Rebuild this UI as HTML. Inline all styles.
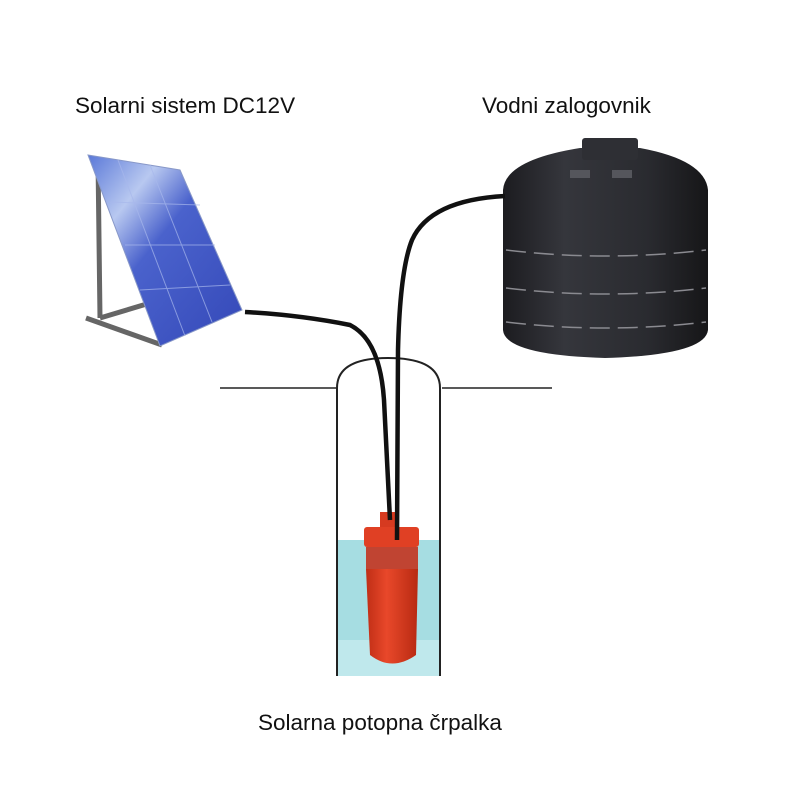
<!DOCTYPE html>
<html><head><meta charset="utf-8"><style>
body{margin:0;background:#fff}
svg{display:block}
text{font-family:"Liberation Sans",sans-serif;font-size:22.5px;fill:#111}
</style></head><body>
<svg width="800" height="800" viewBox="0 0 800 800">
<defs>
<linearGradient id="sky" x1="0" y1="0" x2="1" y2="1">
<stop offset="0" stop-color="#5a78d8"/><stop offset="0.25" stop-color="#b8c8f0"/><stop offset="0.45" stop-color="#4a62cc"/><stop offset="1" stop-color="#3448b8"/></linearGradient>
<linearGradient id="tank" x1="0" x2="1">
<stop offset="0" stop-color="#1c1c20"/><stop offset="0.3" stop-color="#35363c"/><stop offset="0.7" stop-color="#2a2b30"/><stop offset="1" stop-color="#161618"/></linearGradient>
<linearGradient id="pump" x1="0" x2="1">
<stop offset="0" stop-color="#c02e16"/><stop offset="0.4" stop-color="#e8482a"/><stop offset="1" stop-color="#b82a12"/></linearGradient>
</defs>
<text x="75" y="113">Solarni sistem DC12V</text>
<text x="482" y="113">Vodni zalogovnik</text>
<text x="258" y="730">Solarna potopna črpalka</text>
<!-- stand -->
<path d="M98 160 L100 318 M86 318 L162 345 M100 318 L160 300" stroke="#666" stroke-width="5" fill="none"/>
<!-- panel -->
<polygon points="88,155 180,170 242,310 160,346" fill="url(#sky)" stroke="#8898c8" stroke-width="1"/>
<g stroke="#a8b8ec" stroke-width="1" opacity="0.7">
<line x1="110" y1="202" x2="200" y2="205"/><line x1="125" y1="245" x2="215" y2="245"/><line x1="140" y1="290" x2="230" y2="285"/>
<line x1="118" y1="160" x2="185" y2="336"/><line x1="150" y1="165" x2="212" y2="322"/>
</g>
<!-- tank -->
<path d="M503 190 Q505 160 580 148 L640 148 Q705 160 708 190 L708 330 Q705 355 605 358 Q505 355 503 330 Z" fill="url(#tank)"/>
<rect x="582" y="138" width="56" height="22" rx="3" fill="#2e2f34"/>
<rect x="570" y="170" width="20" height="8" fill="#55565c"/><rect x="612" y="170" width="20" height="8" fill="#55565c"/>
<g stroke="#8a8a90" stroke-width="1.5" stroke-dasharray="20 8" fill="none">
<path d="M506 250 Q605 262 706 250"/><path d="M506 288 Q605 300 706 288"/><path d="M506 322 Q605 334 706 322"/></g>
<!-- ground -->
<path d="M220 388 L336 388 M442 388 L552 388" stroke="#222" stroke-width="1.5"/>
<!-- water -->
<rect x="338" y="540" width="102" height="136" fill="#a6dde2"/>
<rect x="338" y="640" width="102" height="36" fill="#bfe8ec"/>
<!-- well -->
<path d="M337 676 L337 388 Q337 358 388 358 Q440 358 440 388 L440 676" stroke="#222" stroke-width="2" fill="none"/>
<!-- pump -->
<rect x="380" y="512" width="18" height="30" fill="#d63a20"/>
<rect x="364" y="527" width="55" height="20" rx="3" fill="#e04024"/>
<rect x="366" y="547" width="52" height="22" fill="#c04432"/>
<path d="M366 569 L418 569 L416 655 Q392 672 370 655 Z" fill="url(#pump)"/>
<!-- cables -->
<path d="M245 312 Q300 315 350 325 Q380 340 384 400 L390 520" stroke="#111" stroke-width="4.5" fill="none"/>
<path d="M505 196 Q430 200 412 240 Q400 270 398 350 L397 540" stroke="#111" stroke-width="4.5" fill="none"/>
</svg>
</body></html>
